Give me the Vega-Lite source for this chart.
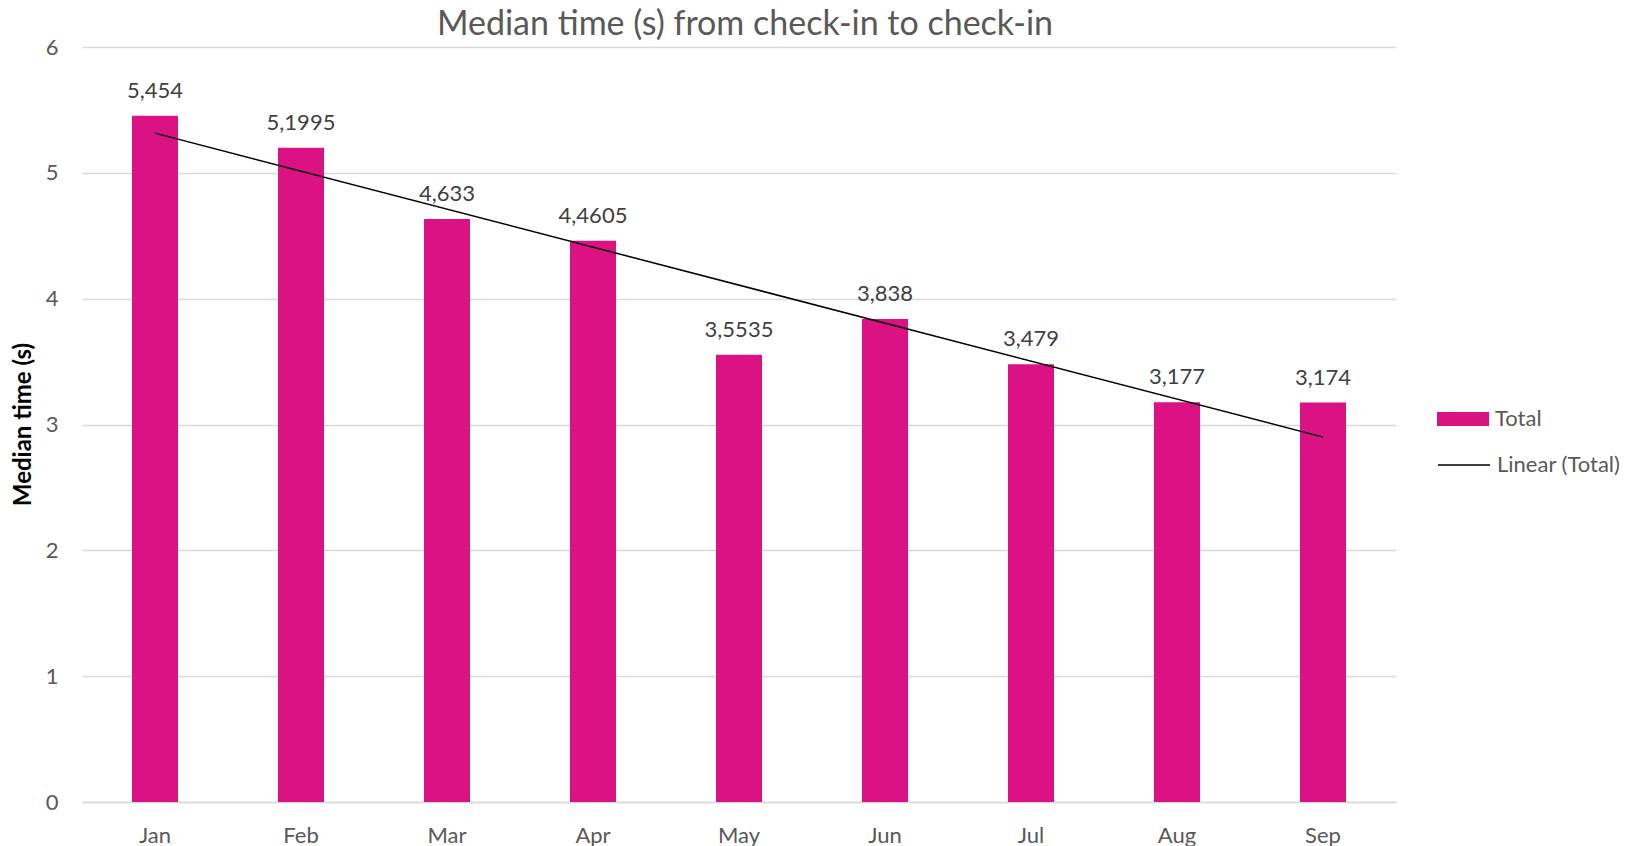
{
  "$schema": "https://vega.github.io/schema/vega-lite/v6.json",
  "autosize": "none",
  "width": 1314,
  "height": 755,
  "padding": {"left": 82, "top": 47, "right": 230, "bottom": 44},
  "background": "white",
  "config": {
    "font": "Lato",
    "view": {"stroke": null},
    "locale": {"number": {"decimal": ",", "thousands": ".", "grouping": [3], "currency": ["", " €"]}},
    "legend": {"padding": 0},
    "axis": {"labelFontSize": 22, "labelColor": "#595959", "ticks": false},
    "axisX": {"labelPadding": 23, "domainColor": "#D9D9D9", "domainWidth": 1.5, "grid": false, "labelAngle": 0},
    "axisY": {"labelPadding": 24, "domain": false, "gridColor": "#D9D9D9", "gridWidth": 1.5}
  },
  "title": {
    "text": "Median time (s) from check-in to check-in",
    "fontSize": 34,
    "font": "Lato",
    "fontWeight": "normal",
    "color": "#595959",
    "anchor": "middle",
    "offset": -6,
    "dx": 6
  },
  "data": {
    "values": [
      {"month": "Jan", "value": 5.454},
      {"month": "Feb", "value": 5.1995},
      {"month": "Mar", "value": 4.633},
      {"month": "Apr", "value": 4.4605},
      {"month": "May", "value": 3.5535},
      {"month": "Jun", "value": 3.838},
      {"month": "Jul", "value": 3.479},
      {"month": "Aug", "value": 3.177},
      {"month": "Sep", "value": 3.174}
    ]
  },
  "layer": [
    {
      "layer": [
        {
          "mark": {"type": "bar"},
          "encoding": {
            "x": {
              "field": "month", "type": "nominal", "sort": null,
              "scale": {"paddingInner": 0.685, "paddingOuter": 0.3425},
              "axis": {"title": null}
            },
            "y": {
              "field": "value", "type": "quantitative",
              "scale": {"domain": [0, 6], "nice": false},
              "axis": {"title": "Median time (s)", "titleFontSize": 24, "titleFontWeight": "bold", "titleColor": "#000000", "titleX": -59, "titleY": 377, "titleAlign": "center", "titleBaseline": "middle", "values": [0, 1, 2, 3, 4, 5, 6], "labelOverlap": false, "format": "d"}
            },
            "fill": {
              "datum": "Total", "type": "nominal",
              "scale": {"range": ["#DA1283"]},
              "legend": {"title": null, "orient": "none", "legendX": 1355, "legendY": 346, "symbolType": "M-1,-0.27H1V0.27H-1Z", "symbolSize": 2704, "symbolStrokeWidth": 0, "symbolOpacity": 1, "labelFontSize": 22, "labelColor": "#595959", "labelOffset": 6}
            }
          }
        },
        {
          "mark": {"type": "text", "dy": -18, "baseline": "alphabetic", "fontSize": 22, "color": "#404040"},
          "encoding": {
            "x": {"field": "month", "type": "nominal", "sort": null},
            "y": {"field": "value", "type": "quantitative"},
            "text": {"field": "value", "type": "quantitative", "format": ".5~g"}
          }
        }
      ]
    },
    {
      "transform": [
        {"window": [{"op": "row_number", "as": "idx"}]},
        {"regression": "value", "on": "idx", "extent": [1, 9]}
      ],
      "mark": {"type": "line", "strokeWidth": 1.5},
      "encoding": {
        "x": {"field": "idx", "type": "quantitative", "scale": {"domain": [0.5, 9.5], "nice": false, "zero": false}, "axis": null},
        "y": {"field": "value", "type": "quantitative"},
        "stroke": {
          "datum": "Linear (Total)", "type": "nominal",
          "scale": {"range": ["#000000"]},
          "legend": {"title": null, "orient": "none", "legendX": 1355, "legendY": 391, "symbolType": "stroke", "symbolSize": 2704, "symbolStrokeWidth": 1.5, "labelFontSize": 22, "labelColor": "#595959", "labelOffset": 6}
        }
      }
    }
  ],
  "resolve": {"scale": {"x": "independent", "fill": "independent", "stroke": "independent"}}
}
